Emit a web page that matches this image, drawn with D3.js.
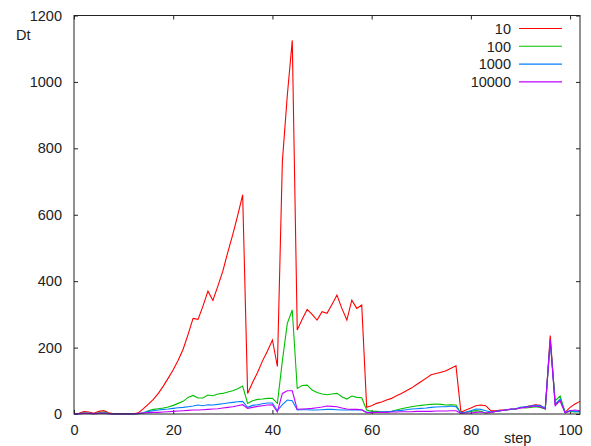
<!DOCTYPE html>
<html>
<head>
<meta charset="utf-8">
<script src="https://cdn.jsdelivr.net/npm/d3@7"></script>
<style>
    body { margin: 0; background: #fff; }
    text { font-family: "Liberation Sans", Arial, sans-serif; font-size: 14.5px; fill: #222; }
</style>
</head>
<body>
<div id="chart-area"></div>
<script>
// x values: step 0..102
const steps = d3.range(0, 103);

const dt10 = [0, 2, 7, 6, 2, 8, 10, 4, 1, 1, 1, 1, 1, 4, 16, 30, 44, 62, 84, 108,
    133, 162, 195, 240, 288, 285, 325, 370, 342, 385, 430, 487, 540, 598, 660, 62, 95, 125, 160, 190,
    223, 143, 760, 960, 1125, 253, 285, 315, 300, 283, 308, 303, 330, 358, 318, 283, 343, 318, 328, 20,
    25, 32, 36, 42, 47, 55, 62, 70, 78, 88, 98, 108, 118, 122, 126, 130, 138, 145, 5, 12,
    18, 25, 27, 25, 10, 10, 12, 12, 14, 15, 18, 22, 25, 28, 26, 15, 236, 30, 40, 5,
    20, 30, 38];

const dt100 = [0, 1, 3, 2, 1, 4, 6, 2, 0, 0, 0, 0, 0, 1, 3, 10, 14, 16, 18, 21,
    26, 32, 38, 50, 56, 48, 48, 57, 55, 60, 62, 66, 70, 76, 84, 32, 40, 44, 45, 47,
    47, 32, 160, 273, 313, 77, 86, 87, 72, 65, 60, 58, 60, 62, 52, 45, 54, 50, 49, 12,
    8, 8, 7, 7, 8, 12, 16, 19, 22, 24, 26, 28, 29, 30, 29, 27, 28, 27, 3, 5,
    8, 10, 8, 3, 5, 8, 10, 12, 14, 14, 20, 18, 20, 22, 20, 15, 220, 40, 54, 5,
    8, 6, 8];

const dt1000 = [0, 1, 2, 2, 1, 2, 3, 1, 0, 0, 0, 0, 0, 1, 4, 8, 10, 12, 14, 15,
    17, 19, 20, 22, 24, 27, 25, 28, 27, 29, 31, 33, 35, 37, 38, 20, 26, 28, 31, 33,
    33, 10, 28, 42, 40, 12, 13, 13, 12, 12, 13, 14, 14, 13, 12, 12, 12, 12, 12, 5,
    5, 5, 6, 7, 8, 10, 11, 13, 15, 16, 17, 18, 20, 21, 22, 22, 24, 22, 3, 6,
    10, 15, 14, 10, 6, 8, 10, 12, 14, 16, 20, 22, 24, 26, 25, 18, 222, 30, 45, 5,
    10, 8, 6];

const dt10000 = [0, 1, 2, 2, 1, 2, 3, 1, 0, 0, 0, 0, 0, 2, 3, 4, 5, 5, 6, 7,
    8, 9, 10, 11, 12, 12, 13, 14, 15, 16, 18, 20, 22, 25, 28, 17, 20, 23, 25, 27,
    28, 6, 62, 70, 70, 14, 15, 16, 17, 19, 21, 24, 23, 22, 18, 15, 14, 14, 13, 4,
    4, 5, 5, 5, 6, 6, 7, 7, 7, 8, 8, 8, 8, 9, 9, 9, 10, 10, 2, 3,
    3, 5, 6, 3, 5, 8, 10, 12, 15, 15, 18, 20, 22, 24, 22, 16, 224, 25, 40, 3,
    10, 12, 10];

const seriesNames = ["10", "100", "1000", "10000"];
const seriesColors = ["#ff0000", "#00c000", "#0080ff", "#c000ff"];
const xTicks = [0, 20, 40, 60, 80, 100];
const yTicks = [0, 200, 400, 600, 800, 1000, 1200];

class LineChart {
    constructor(_parentElement) {
        this.parentElement = _parentElement;
        this.initVis();
    }

    initVis() {
        let vis = this;

        vis.margin = { top: 15.5, right: 11, bottom: 32, left: 74 };
        vis.width = 591 - vis.margin.left - vis.margin.right;
        vis.height = 446 - vis.margin.top - vis.margin.bottom;

        vis.svg = d3.select("#" + vis.parentElement)
            .append("svg")
            .attr("width", 591)
            .attr("height", 446)
            .append("g")
            .attr("transform", "translate(" + vis.margin.left + "," + vis.margin.top + ")");

        vis.x = d3.scaleLinear().domain([0, 102]).range([0, vis.width]);
        vis.y = d3.scaleLinear().domain([0, 1200]).range([vis.height, 0]);

        vis.wrangleData();
    }

    wrangleData() {
        let vis = this;
        let all = [dt10, dt100, dt1000, dt10000];
        vis.lines = seriesNames.map((name, i) => ({
            name: name,
            color: seriesColors[i],
            values: steps.map((s, j) => ({ step: s, dt: all[i][j] }))
        }));
        vis.updateVis();
    }

    updateVis() {
        let vis = this;

        // axes, ticks pointing inward like gnuplot (mirrored on top/right)
        vis.svg.append("g")
            .attr("class", "axis")
            .attr("transform", "translate(0," + vis.height + ")")
            .call(d3.axisBottom(vis.x).tickValues(xTicks).tickFormat(d3.format("d"))
                .tickSizeInner(-4).tickSizeOuter(0).tickPadding(11));
        vis.svg.append("g")
            .attr("class", "axis")
            .call(d3.axisTop(vis.x).tickValues(xTicks).tickSizeInner(-4).tickSizeOuter(0).tickFormat(""));
        vis.svg.append("g")
            .attr("class", "axis")
            .call(d3.axisLeft(vis.y).tickValues(yTicks).tickFormat(d3.format("d"))
                .tickSizeInner(-4).tickSizeOuter(0).tickPadding(12));
        vis.svg.append("g")
            .attr("class", "axis")
            .attr("transform", "translate(" + vis.width + ",0)")
            .call(d3.axisRight(vis.y).tickValues(yTicks).tickSizeInner(-4).tickSizeOuter(0).tickFormat(""));

        vis.svg.selectAll(".axis .domain").remove();
        vis.svg.selectAll(".axis line").attr("stroke", "#222");
        vis.svg.selectAll(".axis text")
            .attr("font-family", "Liberation Sans, Arial, sans-serif")
            .attr("font-size", "14.5px")
            .attr("fill", "#333");

        // plot lines
        let line = d3.line()
            .x(d => vis.x(d.step))
            .y(d => vis.y(d.dt));

        vis.svg.append("g")
            .selectAll(".series")
            .data(vis.lines)
            .join("path")
            .attr("class", "series")
            .attr("d", d => line(d.values))
            .attr("fill", "none")
            .attr("stroke", d => d.color)
            .attr("stroke-width", 1.1);

        // border
        vis.svg.append("rect")
            .attr("width", vis.width)
            .attr("height", vis.height)
            .attr("fill", "none")
            .attr("stroke", "#222")
            .attr("stroke-width", 1);

        // axis titles
        vis.svg.append("text")
            .attr("x", 16 - vis.margin.left)
            .attr("y", 40 - vis.margin.top)
            .text("Dt");
        vis.svg.append("text")
            .attr("x", 504 - vis.margin.left)
            .attr("y", 443 - vis.margin.top)
            .text("step");

        // legend
        let legend = vis.svg.selectAll(".legend")
            .data(vis.lines)
            .join("g")
            .attr("class", "legend")
            .attr("transform", (d, i) => "translate(0," + (28.5 + i * 17.8 - vis.margin.top) + ")");
        legend.append("text")
            .attr("x", 511 - vis.margin.left)
            .attr("dy", "0.36em")
            .attr("text-anchor", "end")
            .text(d => d.name);
        legend.append("line")
            .attr("x1", 519 - vis.margin.left)
            .attr("x2", 562 - vis.margin.left)
            .attr("stroke", d => d.color)
            .attr("stroke-width", 1.1);
    }
}

let chart = new LineChart("chart-area");
</script>
</body>
</html>
